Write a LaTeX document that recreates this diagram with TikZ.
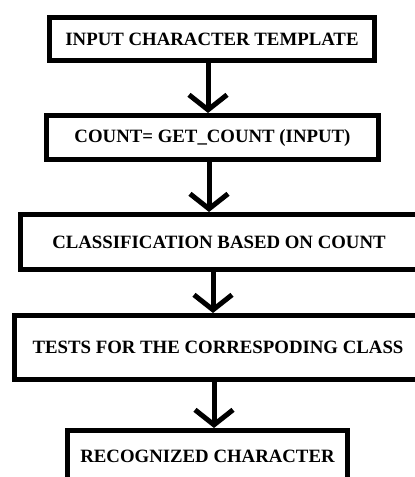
\documentclass[tikz,border=0pt]{standalone}
\usepackage{fontspec}
\setmainfont{Liberation Serif}
\usetikzlibrary{arrows.meta,positioning}

\tikzset{
    stage/.style={draw=black, line width=5pt, fill=white, inner sep=0pt,
        font=\bfseries\fontsize{18.8}{22}\selectfont},
    flow/.style={line width=5pt, -{Straight Barb[length=15pt,width=38pt]}},
}

\begin{document}
\begin{tikzpicture}[x=1pt, y=-1pt]
        \useasboundingbox (0,0) rectangle (415,477);
        \clip (0,0) rectangle (415,477);

        \node[stage, minimum width=325pt, minimum height=43pt] (input) at (212,39) {INPUT CHARACTER TEMPLATE};
        \node[stage, minimum width=332pt, minimum height=44pt] (count) at (212.5,137.5) {COUNT= GET\_COUNT (INPUT)};
        \node[stage, minimum width=397pt, minimum height=55pt] (classify) at (219,242) {CLASSIFICATION BASED ON COUNT};
        \node[stage, minimum width=407pt, minimum height=64pt] (tests) at (218,347.5) {TESTS FOR THE CORRESPODING CLASS};
        \node[stage, minimum width=280pt, minimum height=52pt] (result) at (207.5,456.5) {RECOGNIZED CHARACTER};

        \draw[flow] ([xshift=-4pt]input.south) -- ([xshift=-4.5pt]count.north);
        \draw[flow] ([xshift=-3.5pt]count.south) -- ([xshift=-10pt]classify.north);
        \draw[flow] ([xshift=-6pt]classify.south) -- ([xshift=-5pt]tests.north);
        \draw[flow] ([xshift=-4pt]tests.south) -- ([xshift=6.5pt]result.north);
    \end{tikzpicture}
\end{document}
